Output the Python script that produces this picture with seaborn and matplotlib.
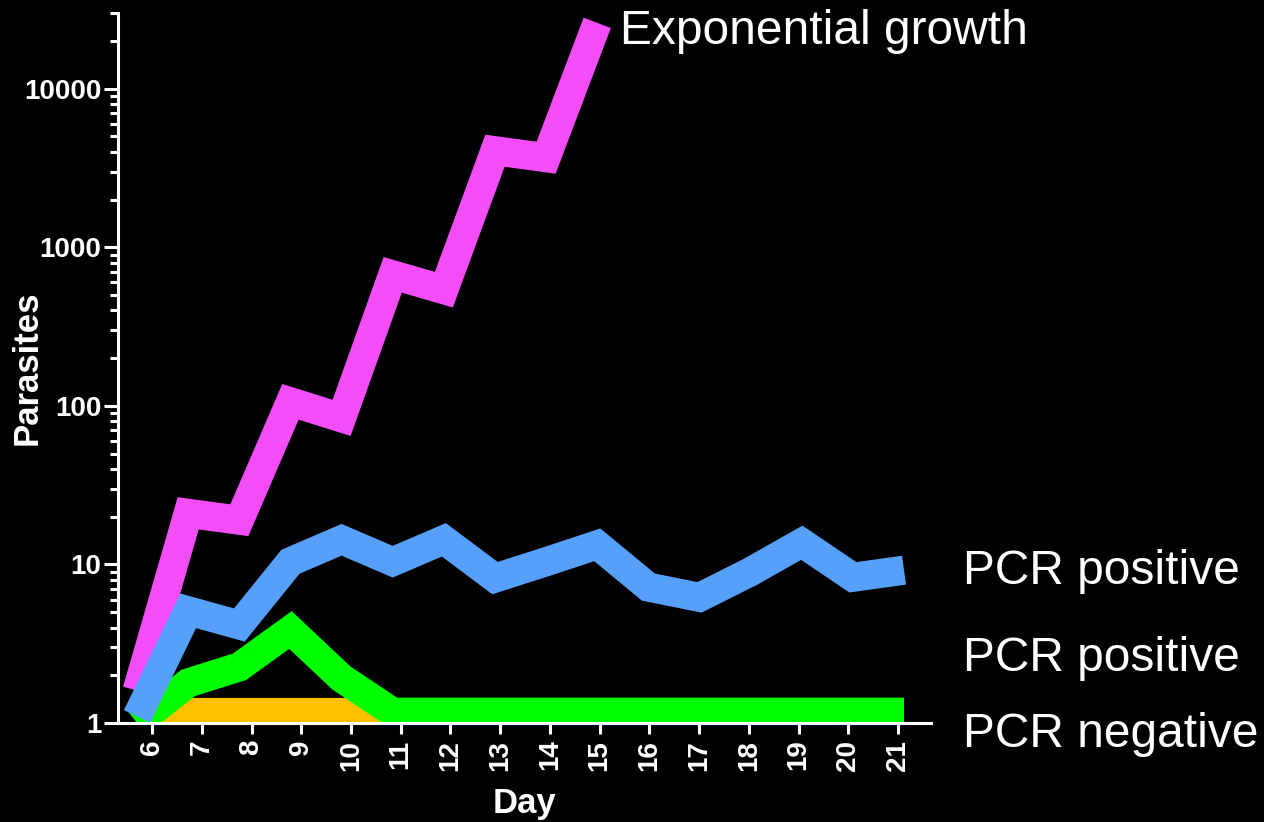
import numpy as np
import pandas as pd
import matplotlib
matplotlib.use("Agg")
import matplotlib.pyplot as plt
import matplotlib.ticker as mticker
import matplotlib.transforms as mtransforms
import seaborn as sns

# data
days = list(range(6, 22))
exp_days = list(range(6, 16))
exponential = [1.6, 21, 19, 106, 84, 670, 540, 4060, 3670, 26000]
pcr_pos_high = [1.1, 5.1, 4.15, 10.4, 14.3, 10.4, 14.3, 8.2, 10.4, 13.3,
                7.2, 6.2, 9.0, 13.7, 8.3, 9.2]
pcr_pos_low = [1.0, 1.79, 2.26, 3.86, 1.92, 1.17, 1.17, 1.17, 1.17, 1.17,
               1.17, 1.17, 1.17, 1.17, 1.17, 1.17]
neg_days = list(range(6, 12))
pcr_neg = [1.17, 1.17, 1.17, 1.17, 1.17, 1.17]

y_ticks = [1, 10, 100, 1000, 10000]
y_ticklabels = ["1", "10", "100", "1000", "10000"]

labels = ["Exponential growth", "PCR positive", "PCR positive", "PCR negative"]
label_y = [19000, 7.5, 2.14, 0.71]

colors = {"neg": "#FFC000", "low": "#00FF00", "exp": "#F24DF7", "high": "#56A0F9"}

sns.set_theme(style="ticks", rc={
    "figure.facecolor": "black",
    "axes.facecolor": "black",
    "axes.edgecolor": "white",
    "xtick.color": "white",
    "ytick.color": "white",
    "text.color": "white",
    "axes.labelcolor": "white",
})
plt.rcParams["font.family"] = ["Liberation Sans", "DejaVu Sans"]

fig = plt.figure(figsize=(12.64, 8.22), dpi=100)
ax = fig.add_axes([0.0934, 0.1204, 0.7366 - 0.0934, 0.9842 - 0.1204])
ax.set_yscale("log")

line_kw = dict(linewidth=21, solid_capstyle="butt", solid_joinstyle="miter",
               estimator=None, sort=False)

sns.lineplot(x=neg_days, y=pcr_neg, color=colors["neg"], ax=ax, **line_kw)
sns.lineplot(x=days, y=pcr_pos_low, color=colors["low"], ax=ax, **line_kw)
sns.lineplot(x=exp_days, y=exponential, color=colors["exp"], ax=ax, **line_kw)
sns.lineplot(x=days, y=pcr_pos_high, color=colors["high"], ax=ax, **line_kw)

# the original plots the points on a slightly wider scale than its day ticks
ax.set_xlim(5.628, 21.529)
ax.set_ylim(1, 30000)

tick_pos = [6.293 + (d - 6) * 0.9726 for d in days]
ax.set_xticks(tick_pos)
ax.set_xticklabels([str(d) for d in days], rotation=90, fontsize=20,
                   fontweight="bold")
ax.set_yticks(y_ticks)
ax.set_yticklabels(y_ticklabels, fontsize=20, fontweight="bold")
ax.yaxis.set_minor_locator(mticker.LogLocator(base=10, subs=range(2, 10)))
ax.yaxis.set_minor_formatter(mticker.NullFormatter())

ax.tick_params(axis="both", which="major", length=10, width=2.2, pad=2)
ax.tick_params(axis="y", which="minor", length=6, width=2.2)
ax.tick_params(axis="x", which="major", length=8, pad=4)

sns.despine(ax=ax)
for side in ["left", "bottom"]:
    ax.spines[side].set_linewidth(2.2)
    ax.spines[side].set_color("white")

ax.set_xlabel("Day", fontsize=25, fontweight="bold", labelpad=12)
ax.set_ylabel("Parasites", fontsize=25, fontweight="bold")
ax.yaxis.set_label_coords(-0.092, 0.5)

trans = mtransforms.blended_transform_factory(ax.transAxes, ax.transData)
label_x = [0.6175, 1.0394, 1.0394, 1.0394]
for x, y, txt in zip(label_x, label_y, labels):
    ax.text(x, y, txt, fontsize=34.5, color="white", ha="left",
            va="baseline", clip_on=False, transform=trans)

fig.savefig("out.png", dpi=100, facecolor="black")
